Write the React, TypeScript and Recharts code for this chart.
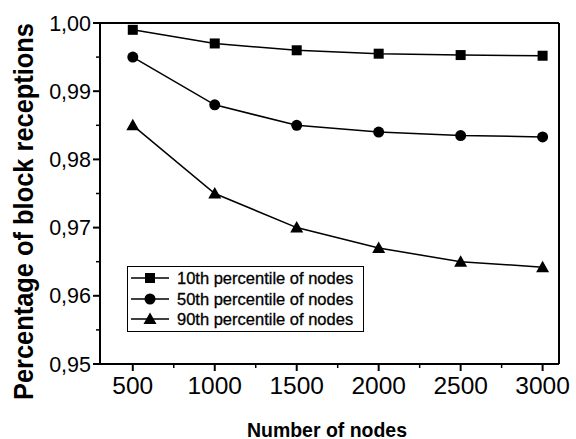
import React from 'react';
import { LineChart, Line, XAxis, YAxis } from 'recharts';

const nodes = [500, 1000, 1500, 2000, 2500, 3000];
const p10 = [0.999, 0.997, 0.996, 0.9955, 0.9953, 0.9952];
const p50 = [0.995, 0.988, 0.985, 0.984, 0.9835, 0.9833];
const p90 = [0.985, 0.975, 0.970, 0.967, 0.965, 0.9642];
const seriesNames = ['10th percentile of nodes', '50th percentile of nodes', '90th percentile of nodes'];
const xMajorTicks = [500, 1000, 1500, 2000, 2500, 3000];
const xMinorTicks = [750, 1250, 1750, 2250, 2750];
const yMajorTicks = [0.95, 0.96, 0.97, 0.98, 0.99, 1.0];
const yMinorTicks = [0.955, 0.965, 0.975, 0.985, 0.995];
const xTitle = 'Number of nodes';
const yTitle = 'Percentage of block receptions';

const xAllTicks = [...xMajorTicks, ...xMinorTicks].sort((a, b) => a - b);
const yAllTicks = [...yMajorTicks, ...yMinorTicks].sort((a, b) => a - b);

const data = nodes.map((n, i) => ({ n, p10: p10[i], p50: p50[i], p90: p90[i] }));

const FONT = '"Liberation Sans", Arial, sans-serif';
const TS = 7;
const TM = 2;

const Square = (props: any) => {
  const { cx, cy } = props;
  if (cx == null || cy == null) return null;
  return <rect x={cx - 5} y={cy - 5} width={10} height={10} fill="#000" />;
};
const Circle = (props: any) => {
  const { cx, cy } = props;
  if (cx == null || cy == null) return null;
  return <circle cx={cx} cy={cy} r={5.5} fill="#000" />;
};
const Tri = (props: any) => {
  const { cx, cy } = props;
  if (cx == null || cy == null) return null;
  return <path d={`M${cx},${cy - 6.5} L${cx + 6.5},${cy + 5} L${cx - 6.5},${cy + 5} Z`} fill="#000" />;
};

const markers = [Square, Circle, Tri];

const isMajor = (list: number[], v: number) => list.some((m) => Math.abs(m - v) < 1e-9);

const XTick = (props: any) => {
  const { x, y, payload } = props;
  const v = payload.value;
  const major = isMajor(xMajorTicks, v);
  const axisY = y - TS - TM;
  return (
    <g>
      <line x1={x} x2={x} y1={axisY} y2={axisY + (major ? 7 : 4)} stroke="#000" strokeWidth={major ? 2 : 1.5} />
      {major && (
        <text x={x} y={axisY + 30} textAnchor="middle" fill="#000" fontSize={24.5} fontFamily={FONT}>
          {String(v)}
        </text>
      )}
    </g>
  );
};

const YTick = (props: any) => {
  const { x, y, payload } = props;
  const v = payload.value;
  const major = isMajor(yMajorTicks, v);
  const axisX = x + TS + TM;
  return (
    <g>
      <line x1={axisX - (major ? 7 : 4)} x2={axisX} y1={y} y2={y} stroke="#000" strokeWidth={major ? 2 : 1.5} />
      {major && (
        <text x={x} y={y} dy="0.355em" textAnchor="end" fill="#000" fontSize={21.5} fontFamily={FONT}>
          {v.toFixed(2).replace('.', ',')}
        </text>
      )}
    </g>
  );
};

const LegendBox = () => (
  <div
    style={{
      position: 'absolute',
      left: 127,
      top: 266,
      border: '1.5px solid #000',
      background: '#fff',
      padding: '1px 10px 1px 2px',
      fontFamily: FONT,
      fontSize: 16.5,
      lineHeight: '20.5px',
      color: '#000',
      WebkitTextStroke: '0.3px #000',
    }}
  >
    {seriesNames.map((name, i) => {
      const M = markers[i];
      return (
        <div key={name} style={{ display: 'flex', alignItems: 'center', height: 20.5 }}>
          <svg width={42} height={20} style={{ marginRight: 5 }}>
            <line x1={1} y1={10} x2={39} y2={10} stroke="#000" strokeWidth={1.5} />
            <M cx={20} cy={10} />
          </svg>
          <span>{name}</span>
        </div>
      );
    })}
  </div>
);

const YTitle = () => (
  <text
    x={33}
    y={211.5}
    transform="rotate(-90, 33, 211.5)"
    textAnchor="middle"
    textLength={377}
    lengthAdjust="spacingAndGlyphs"
    fill="#000"
    fontSize={27}
    fontWeight="bold"
    fontFamily={FONT}
  >
    {yTitle}
  </text>
);

const XTitle = () => (
  <text
    x={327}
    y={436.5}
    textAnchor="middle"
    textLength={160}
    lengthAdjust="spacingAndGlyphs"
    fill="#000"
    fontSize={20.5}
    fontWeight="bold"
    fontFamily={FONT}
  >
    {xTitle}
  </text>
);

export default function App() {
  return (
    <div style={{ position: 'absolute', left: 0, top: 0, width: 576, height: 439, background: '#fff' }}>
      <LineChart width={576} height={439} data={data} margin={{ top: 22, right: 16, bottom: 0, left: 0 }}>
        <XAxis
          dataKey="n"
          type="number"
          domain={[300, 3100]}
          ticks={xAllTicks}
          tickSize={TS}
          tickMargin={TM}
          height={75}
          axisLine={{ stroke: '#000', strokeWidth: 2 }}
          tickLine={false}
          tick={<XTick />}
          interval={0}
          label={{ content: () => <XTitle /> }}
        />
        <XAxis
          xAxisId="top"
          orientation="top"
          dataKey="n"
          type="number"
          domain={[300, 3100]}
          height={1}
          tick={false}
          tickLine={false}
          axisLine={{ stroke: '#000', strokeWidth: 2 }}
        />
        <YAxis
          type="number"
          domain={[0.95, 1.0]}
          ticks={yAllTicks}
          tickSize={TS}
          tickMargin={TM}
          width={100}
          interval={0}
          axisLine={{ stroke: '#000', strokeWidth: 2 }}
          tickLine={false}
          tick={<YTick />}
          label={{ content: () => <YTitle /> }}
        />
        <YAxis
          yAxisId="right"
          orientation="right"
          type="number"
          domain={[0.95, 1.0]}
          width={1}
          tick={false}
          tickLine={false}
          axisLine={{ stroke: '#000', strokeWidth: 2 }}
        />
        <Line dataKey="p10" name={seriesNames[0]} stroke="#000" strokeWidth={1.5} dot={<Square />} isAnimationActive={false} />
        <Line dataKey="p50" name={seriesNames[1]} stroke="#000" strokeWidth={1.5} dot={<Circle />} isAnimationActive={false} />
        <Line dataKey="p90" name={seriesNames[2]} stroke="#000" strokeWidth={1.5} dot={<Tri />} isAnimationActive={false} />
      </LineChart>
      <LegendBox />
    </div>
  );
}
